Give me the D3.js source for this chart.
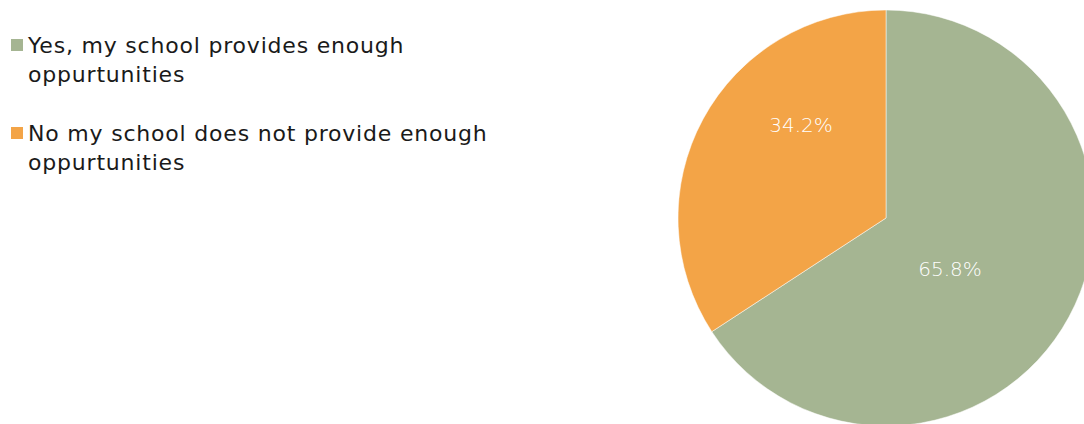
<!DOCTYPE html>
<html>
<head>
<meta charset="utf-8">
<script src="https://cdn.jsdelivr.net/npm/d3@7"></script>
<style>
  body { margin: 0; background: #fff; }
  svg { display: block; }
</style>
</head>
<body>
<div id="chart"></div>
<script>
// data
var categories = [
  ["Yes, my school provides enough", "oppurtunities"],
  ["No my school does not provide enough", "oppurtunities"]
];
var values = [65.8, 34.2];
var colors = ["#a5b592", "#f3a447"];

var width = 1084,
    height = 424,
    radius = 208,
    cx = 886,
    cy = 218;

// Excel "best fit" puts the labels a bit off the slice centroid
var labelShift = [[64, 51], [-85, -93]];

var svg = d3.select("#chart")
  .append("svg")
  .attr("width", width)
  .attr("height", height);

var pie = d3.pie()
  .sort(null)
  .value(function(d) { return d; });

var arcs = pie(values);

var arc = d3.arc()
  .innerRadius(0)
  .outerRadius(radius);

var g = svg.append("g")
  .attr("transform", "translate(" + cx + "," + cy + ")");

g.selectAll("path")
  .data(arcs)
  .enter()
  .append("path")
  .attr("d", arc)
  .attr("fill", function(d, i) { return colors[i]; })
  .attr("stroke", "#fff")
  .attr("stroke-width", 0.5);

g.selectAll("text.lbl")
  .data(arcs)
  .enter()
  .append("text")
  .attr("class", "lbl")
  .attr("x", function(d, i) { return labelShift[i][0]; })
  .attr("y", function(d, i) { return labelShift[i][1]; })
  .attr("text-anchor", "middle")
  .attr("dominant-baseline", "central")
  .attr("fill", "#ffffff")
  .style("font-family", "'DejaVu Sans', sans-serif")
  .style("font-size", "20px")
  .style("font-weight", "300")
  .text(function(d) { return d.value.toFixed(1) + "%"; });

// legend
var legend = svg.append("g")
  .selectAll("g")
  .data(categories)
  .enter()
  .append("g")
  .attr("transform", function(d, i) { return "translate(0," + (i * 88) + ")"; });

legend.append("rect")
  .attr("x", 11)
  .attr("y", 39)
  .attr("width", 12)
  .attr("height", 12)
  .attr("fill", function(d, i) { return colors[i]; });

legend.append("text")
  .attr("x", 28)
  .attr("y", 53)
  .attr("fill", "#1a1a1a")
  .style("font-family", "'DejaVu Sans', sans-serif")
  .style("font-size", "22px")
  .style("letter-spacing", "0.8px")
  .selectAll("tspan")
  .data(function(d) { return d; })
  .enter()
  .append("tspan")
  .attr("x", 28)
  .attr("dy", function(d, i) { return i ? 29 : 0; })
  .text(function(d) { return d; });
</script>
</body>
</html>
